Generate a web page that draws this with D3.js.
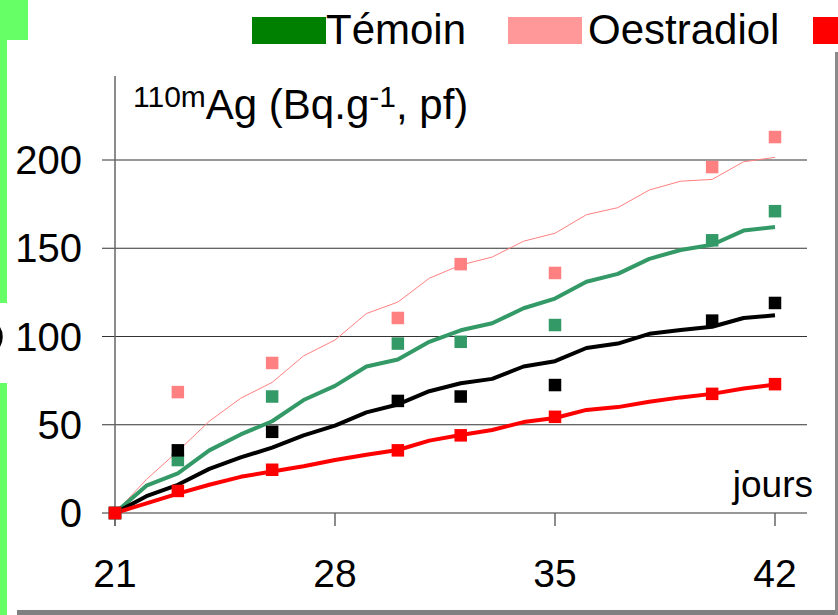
<!DOCTYPE html>
<html>
<head>
<meta charset="utf-8">
<script src="https://d3js.org/d3.v7.min.js"></script>
<style>
  body { margin: 0; background: #fff; }
  svg { display: block; font-family: Arial, "Liberation Sans", sans-serif; }
</style>
</head>
<body>
<svg id="drawing_region"></svg>
<script>
// measured days (points)
const days = [21, 23, 26, 30, 32, 35, 40, 42];
const temoinPts = [0, 30, 66, 96, 97, 106.5, 154.5, 171];
const oestradiolPts = [0, 68.5, 85, 110.5, 141, 136, 196, 213];
const noirPts = [0, 35.5, 46, 63.5, 66, 72.5, 109, 119];
const rougePts = [0, 12.5, 24.5, 35.5, 44, 54.5, 67.5, 73];

// fitted curves, read day by day
const fitDays = [21, 22, 23, 24, 25, 26, 27, 28, 29, 30, 31, 32, 33, 34, 35, 36, 37, 38, 39, 40, 41, 42];
const temoinFit = [0, 15.5, 22.5, 35.5, 44.5, 52, 64, 72, 83, 87, 97, 103.5, 107.5, 116, 121.5, 131, 135.5, 144, 149, 152, 160, 162];
const oestradiolFit = [0, 19, 35, 52, 65, 74, 89, 98, 113, 119.5, 133, 140.5, 145, 154, 158.5, 169, 173, 183, 188, 189, 199, 201.5];
const noirFit = [0, 9.5, 16, 25, 31.5, 37, 44, 49.5, 57, 61.5, 69, 73.5, 76, 83, 86, 93.5, 96, 101.5, 103.7, 105.5, 110.5, 112];
const rougeFit = [0, 5.5, 11, 16, 20.5, 23.5, 26.5, 30, 33, 35.7, 41, 44.2, 47, 51.5, 53.8, 58.4, 60, 63, 65.5, 67.5, 70.5, 72.8];

const xTicks = [21, 28, 35, 42];
const yTicks = [0, 50, 100, 150, 200];
const legendNames = ["Témoin", "Oestradiol", ""];

const series = [
    { name: "Oestradiol", pts: oestradiolPts, fit: oestradiolFit, color: "#ff8080", width: 1 },
    { name: "Témoin", pts: temoinPts, fit: temoinFit, color: "#339966", width: 4 },
    { name: "noir", pts: noirPts, fit: noirFit, color: "#000000", width: 4 },
    { name: "rouge", pts: rougePts, fit: rougeFit, color: "#ff0000", width: 4 }
];

const svg = d3.select('#drawing_region')
    .attr('width', 838)
    .attr('height', 615);

// slide decorations
const deco = svg.append('g');
deco.append('rect').attr('x', 0).attr('y', 0).attr('width', 28).attr('height', 40).attr('fill', '#66ff66');
deco.append('rect').attr('x', 0).attr('y', 40).attr('width', 7).attr('height', 263).attr('fill', '#66ff66');
deco.append('rect').attr('x', 0).attr('y', 383).attr('width', 7).attr('height', 232).attr('fill', '#66ff66');
deco.append('rect').attr('x', 17).attr('y', 610).attr('width', 821).attr('height', 5).attr('fill', '#808080');
deco.append('rect').attr('x', 835).attr('y', 52).attr('width', 3).attr('height', 563).attr('fill', '#8a8a8a');
// right edge of a glyph hidden behind the slide border
deco.append('ellipse').attr('cx', -8).attr('cy', 337).attr('rx', 9).attr('ry', 13)
    .attr('fill', 'none').attr('stroke', '#000').attr('stroke-width', 3.5);

const xscale = d3.scaleLinear().domain([21, 42]).range([115, 775]);
const yscale = d3.scaleLinear().domain([0, 200]).range([513, 160]);

// gridlines
svg.append('g').selectAll('line').data(yTicks)
    .join('line')
    .attr('x1', 102).attr('x2', 807)
    .attr('y1', d => yscale(d)).attr('y2', d => yscale(d))
    .attr('stroke', '#333').attr('stroke-width', 1.2);

// y axis line
svg.append('line')
    .attr('x1', 115).attr('x2', 115)
    .attr('y1', 76).attr('y2', 526)
    .attr('stroke', '#666').attr('stroke-width', 1.5);

// x ticks
svg.append('g').selectAll('line').data(xTicks)
    .join('line')
    .attr('x1', d => xscale(d)).attr('x2', d => xscale(d))
    .attr('y1', 513).attr('y2', 526)
    .attr('stroke', '#666').attr('stroke-width', 1.5);

svg.append('g').selectAll('text').data(yTicks)
    .join('text')
    .attr('x', 82)
    .attr('y', d => yscale(d) + 14)
    .attr('text-anchor', 'end')
    .attr('font-size', '40px')
    .text(d => d);

svg.append('g').selectAll('text').data(xTicks)
    .join('text')
    .attr('x', d => xscale(d))
    .attr('y', 587)
    .attr('text-anchor', 'middle')
    .attr('font-size', '39px')
    .text(d => d);

svg.append('text')
    .attr('x', 813).attr('y', 497)
    .attr('text-anchor', 'end')
    .attr('font-size', '37px')
    .text('jours');

// axis title with superscripts
const title = svg.append('text').attr('x', 133).attr('y', 119).attr('font-size', '42px');
title.append('tspan').attr('font-size', '30px').attr('dy', -12).text('110m');
title.append('tspan').attr('dy', 12).text('Ag (Bq.g');
title.append('tspan').attr('font-size', '30px').attr('dy', -12).text('-1');
title.append('tspan').attr('dy', 12).text(', pf)');

// fitted lines
const line = d3.line()
    .x((d, i) => xscale(fitDays[i]))
    .y(d => yscale(d));

svg.append('g').selectAll('path').data(series)
    .join('path')
    .attr('d', d => line(d.fit))
    .attr('fill', 'none')
    .attr('stroke', d => d.color)
    .attr('stroke-width', d => d.width)
    .attr('stroke-linejoin', 'round');

// measured points (squares)
const size = 12.5;
series.forEach(s => {
    svg.append('g').selectAll('rect').data(s.pts)
        .join('rect')
        .attr('x', (d, i) => xscale(days[i]) - size / 2)
        .attr('y', d => yscale(d) - size / 2)
        .attr('width', size).attr('height', size)
        .attr('fill', s.color);
});

// legend (clipped at the right edge, as in the slide)
const legendColors = ["#008000", "#ff9999", "#ff0000"];
const legendX = [252, 508, 813];
const legendTextX = [326, 588, 890];
const lg = svg.append('g');
lg.selectAll('rect').data(legendNames)
    .join('rect')
    .attr('x', (d, i) => legendX[i])
    .attr('y', 17)
    .attr('width', 74).attr('height', 27)
    .attr('fill', (d, i) => legendColors[i]);
lg.selectAll('text').data(legendNames.slice(0, 2))
    .join('text')
    .attr('x', (d, i) => legendTextX[i])
    .attr('y', 44)
    .attr('font-size', '42px')
    .text(d => d);
</script>
</body>
</html>
